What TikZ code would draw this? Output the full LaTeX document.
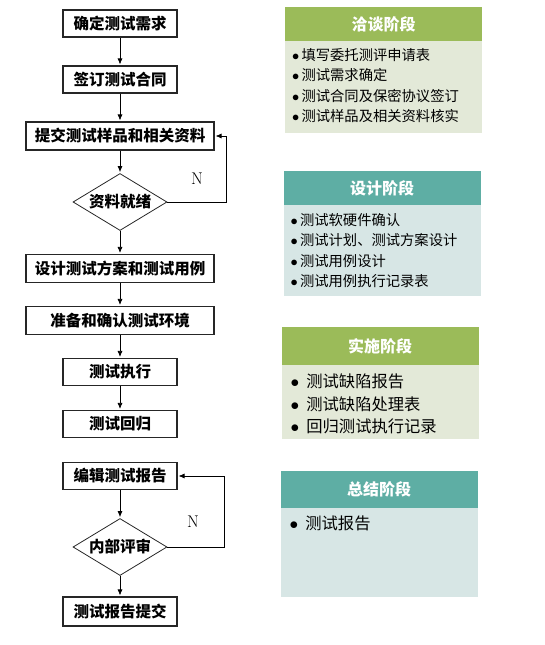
\documentclass[tikz,border=0pt]{standalone}
\usepackage{fontspec}
\newfontfamily\cjk{Noto Sans CJK SC}
\usetikzlibrary{positioning, arrows.meta, shapes.geometric}

\definecolor{phasegreen}{HTML}{9BBB59}
\definecolor{phasegreenbg}{HTML}{E3E9D8}
\definecolor{phaseteal}{HTML}{5EAEA4}
\definecolor{phasetealbg}{HTML}{D7E6E5}

\begin{document}
\begin{tikzpicture}[x=1pt, y=1pt, shorten >=1pt, node distance=56pt, on grid,
        >={Latex[length=6pt, width=5pt]},
        box/.style={rectangle, draw=black!85, line width=1.1pt, fill=white,
            minimum width=114pt, minimum height=27pt, inner sep=0pt,
            font=\cjk\bfseries\fontsize{15.5pt}{16pt}\selectfont},
        widebox/.style={box, minimum width=188pt, minimum height=28pt},
        check/.style={diamond, draw=black!85, line width=0.8pt, aspect=1.65,
            minimum width=94pt, minimum height=57pt, inner sep=0pt,
            font=\cjk\bfseries\fontsize{15.5pt}{16pt}\selectfont},
        head/.style={rectangle, minimum width=197pt, inner sep=0pt, text=white,
            font=\cjk\bfseries\fontsize{16pt}{17pt}\selectfont},
        body/.style={rectangle, minimum width=197pt, inner sep=0pt},
        items/.style={inner sep=0pt, align=left, anchor=north west},
        small/.style={font=\cjk\fontsize{14.3pt}{20.6pt}\selectfont},
        large/.style={font=\cjk\fontsize{16.3pt}{22.5pt}\selectfont},
        mark N/.style={font=\fontsize{17pt}{18pt}\selectfont}]

        \useasboundingbox (0,0) rectangle (544,-645);

        % Flow
        \node[box] (need) at (120,-23.5) {确定测试需求};
        \node[box] (contract) [below=of need] {签订测试合同};
        \node[widebox] (sample) [below=56.5pt of contract] {提交测试样品和相关资料};
        \node[check] (ready) [below=66pt of sample] {资料就绪};
        \node[widebox] (plan) [below=66.5pt of ready] {设计测试方案和测试用例};
        \node[widebox] (env) [below=52pt of plan] {准备和确认测试环境};
        \node[box] (run) [below=51.5pt of env] {测试执行};
        \node[box] (regress) [below=52pt of run] {测试回归};
        \node[box] (report) [below=52pt of regress] {编辑测试报告};
        \node[check] (review) [below=71pt of report] {内部评审};
        \node[box, minimum height=29pt] (submit) [below=64.5pt of review] {测试报告提交};

        \path[->, line width=0.7pt]
            (need) edge (contract)
            (contract) edge (sample)
            (sample) edge (ready)
            (ready) edge (plan)
            (plan) edge (env)
            (env) edge (run)
            (run) edge (regress)
            (report) edge (review)
            (review) edge (submit);

        \draw[->, line width=0.7pt] (ready.east) -- ++(59,0)
            node[pos=0.5, above=14pt, mark N] {N} |- (sample.east);
        \draw[->, line width=0.7pt] (review.east) -- ++(57,0)
            node[pos=0.45, above=16pt, mark N] {N} |- (report.east);

        % Phases
        \node[head, fill=phasegreen, minimum height=34pt] (talkhead) at (383.5,-24) {洽谈阶段};
        \node[body, fill=phasegreenbg, minimum height=92pt, below=63pt of talkhead] (talkbody) {};
        \node[items, small] (talklist) at ([shift={(7pt,-7pt)}]talkbody.north west)
            {$\bullet$\,填写委托测评申请表\\ $\bullet$\,测试需求确定\\
             $\bullet$\,测试合同及保密协议签订\\ $\bullet$\,测试样品及相关资料核实};

        \node[head, fill=phaseteal, minimum height=34pt] (designhead) at (382,-188) {设计阶段};
        \node[body, fill=phasetealbg, minimum height=91pt, below=62.5pt of designhead] (designbody) {};
        \node[items, small] (designlist) at ([shift={(7pt,-8pt)}]designbody.north west)
            {$\bullet$\,测试软硬件确认\\ $\bullet$\,测试计划、测试方案设计\\
             $\bullet$\,测试用例设计\\ $\bullet$\,测试用例执行记录表};

        \node[head, fill=phasegreen, minimum height=38pt] (runhead) at (380,-346) {实施阶段};
        \node[body, fill=phasegreenbg, minimum height=74pt, below=56pt of runhead] (runbody) {};
        \node[items, large] (runlist) at ([shift={(9pt,-9pt)}]runbody.north west)
            {$\bullet$\;\,测试缺陷报告\\ $\bullet$\;\,测试缺陷处理表\\
             $\bullet$\;\,回归测试执行记录};

        \node[head, fill=phaseteal, minimum height=37pt] (sumhead) at (379,-489.5) {总结阶段};
        \node[body, fill=phasetealbg, minimum height=89pt, below=63pt of sumhead] (sumbody) {};
        \node[items, large] (sumlist) at ([shift={(9pt,-8pt)}]sumbody.north west)
            {$\bullet$\;\,测试报告};
\end{tikzpicture}
\end{document}
